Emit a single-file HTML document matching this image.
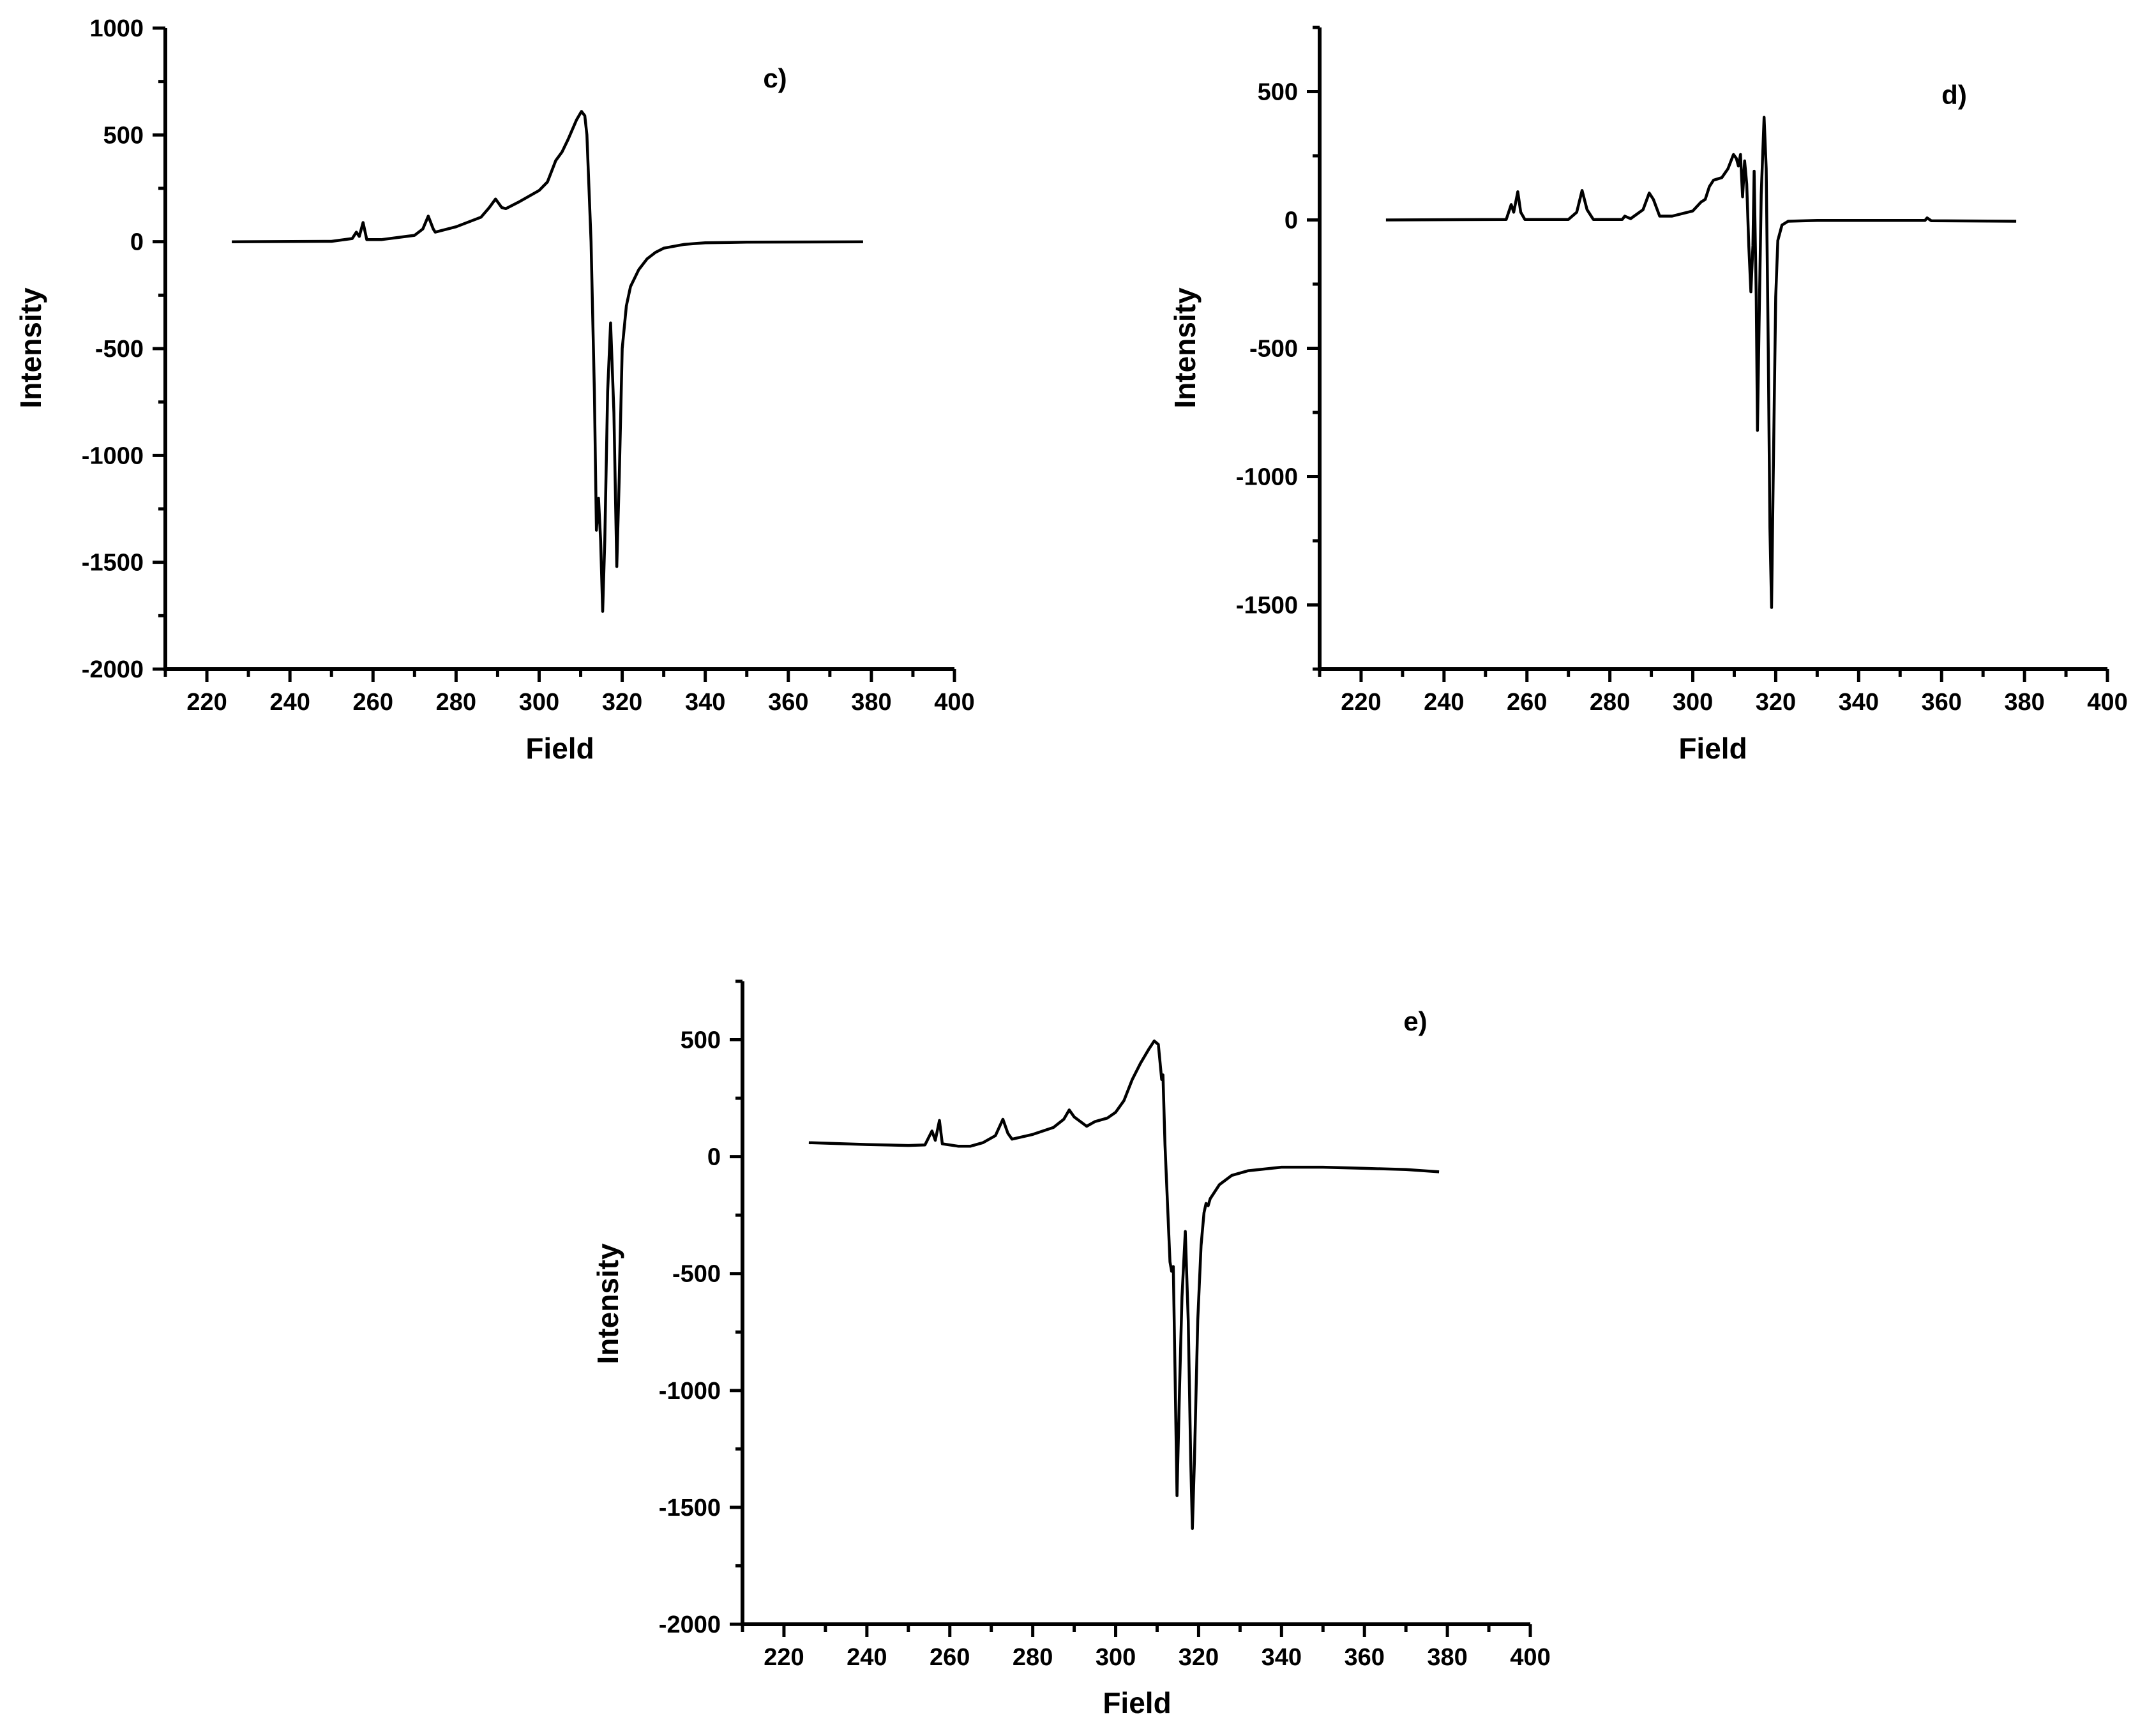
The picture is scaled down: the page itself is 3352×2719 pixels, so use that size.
<!DOCTYPE html>
<html><head><meta charset="utf-8"><style>
html,body{margin:0;padding:0;background:#fff;}
svg{display:block;}
text{font-family:"Liberation Sans",Arial,sans-serif;font-weight:bold;fill:#000;}
</style></head><body>
<svg id="chart" width="3352" height="2719" viewBox="0 0 3352 2719" xmlns="http://www.w3.org/2000/svg"></svg>
<script>
const fieldC = [226,250,255,256,256.7,257.6,258.5,262,270,272,273.3,274.5,275,280,286,288,289.5,291,292,295,300,302,304,305.5,307,309,310.2,311,311.5,312.5,313.3,313.8,314.3,314.8,315.3,315.8,316.5,317.2,318,318.7,319.3,320,321,322,324,326,328,330,335,340,350,378];
const intC = [0,2,15,45,25,90,10,10,30,60,120,60,45,70,115,160,200,160,155,185,240,280,380,420,480,570,610,590,500,0,-700,-1350,-1200,-1400,-1730,-1400,-700,-380,-800,-1520,-1100,-500,-300,-210,-130,-80,-50,-30,-12,-5,-2,0];
const fieldD = [226,255,256.2,256.8,257.8,258.5,259.5,270,272,273.3,274.5,276,283,283.6,285,288,289.5,290.5,292,295,300,302,303,304,305,307,308.5,309.8,310.5,311,311.5,312,312.5,313,313.5,314,314.5,314.8,315.3,315.6,316,316.5,317.2,317.7,318.2,318.6,319,319.4,320,320.5,321.5,323,330,356,356.5,357.5,378];
const intD = [0,2,60,30,110,30,2,2,30,115,40,2,2,15,5,40,105,80,15,15,35,70,80,130,155,165,200,255,240,210,255,90,230,140,-100,-280,-100,190,-300,-820,-400,100,400,200,-500,-1200,-1510,-1000,-300,-80,-20,-5,-2,-2,8,-3,-5];
const fieldE = [226,240,250,254,255.7,256.5,257.5,258.2,262,265,268,271,272.8,274,275,280,285,287.5,288.8,290,293,295,298,300,302,304,306,308,309.3,310.3,311.1,311.4,311.9,312.5,313.1,313.5,313.9,314.3,314.8,315.4,316,316.8,317.5,318.1,318.5,319,319.8,320.6,321.3,321.8,322.3,322.8,325,328,332,340,350,360,370,378];
const intE = [60,52,48,50,110,70,155,55,45,45,60,90,160,100,75,95,125,160,200,170,130,150,165,190,240,330,400,460,495,480,330,350,50,-200,-450,-490,-470,-900,-1450,-1000,-600,-320,-700,-1300,-1590,-1300,-700,-380,-240,-200,-210,-180,-120,-80,-60,-45,-45,-50,-55,-65];
const xTicks = [220,240,260,280,300,320,340,360,380,400];
const yTicksC = [1000,500,0,-500,-1000,-1500,-2000];
const yTicksD = [500,0,-500,-1000,-1500];
const yTicksE = [500,0,-500,-1000,-1500,-2000];

const NS="http://www.w3.org/2000/svg";
const svg=document.getElementById('chart');
function mk(tag,attrs,parent){const e=document.createElementNS(NS,tag);for(const k in attrs)e.setAttribute(k,attrs[k]);(parent||svg).appendChild(e);return e;}

const panels=[
 {id:'c',x0:259,x1:1495,yT:44,yB:1048,ymin:-2000,ymax:1000,yt:yTicksC,f:fieldC,v:intC,lab:'c)',lx:1214,ly:137,fx:877,fy:1188,ix:64,iy:545},
 {id:'d',x0:2067,x1:3301,yT:43,yB:1048,ymin:-1750,ymax:750,yt:yTicksD,f:fieldD,v:intD,lab:'d)',lx:3061,ly:163,fx:2683,fy:1188,ix:1872,iy:545},
 {id:'e',x0:1163,x1:2397,yT:1537,yB:2544,ymin:-2000,ymax:750,yt:yTicksE,f:fieldE,v:intE,lab:'e)',lx:2217,ly:1614,fx:1781,fy:2683,ix:968,iy:2042}
];
panels.forEach(p=>{
 const g=mk('g',{});
 
 
 const sx=v=>p.x0+(v-210)/(400-210)*(p.x1-p.x0);
 const sy=v=>p.yB-(v-p.ymin)/(p.ymax-p.ymin)*(p.yB-p.yT);
 const ax=mk('path',{d:`M${p.x0},${p.yT}V${p.yB}H${p.x1}`,fill:'none',stroke:'#000','stroke-width':6},g);
 
 
 for(let v=210;v<=400;v+=10){const X=sx(v);const maj=(v%20===0);
  mk('line',{x1:X,y1:p.yB,x2:X,y2:p.yB+(maj?20:12),stroke:'#000','stroke-width':5},g);}
 xTicks.forEach(v=>{const t=mk('text',{x:sx(v),y:p.yB+64,'text-anchor':'middle','font-size':38},g);t.textContent=v;
  
  });
 for(let v=p.ymin;v<=p.ymax;v+=250){const Y=sy(v);const maj=(v%500===0);
  mk('line',{x1:p.x0,y1:Y,x2:p.x0-(maj?20:11),y2:Y,stroke:'#000','stroke-width':5},g);}
 p.yt.forEach(v=>{const t=mk('text',{x:p.x0-34,y:sy(v)+13,'text-anchor':'end','font-size':38},g);t.textContent=v;
  
  });
 let d='';p.f.forEach((f,i)=>{d+=(i?'L':'M')+sx(f).toFixed(1)+','+sy(p.v[i]).toFixed(1);});
 const line=mk('path',{d:d,fill:'none',stroke:'#000','stroke-width':4.5,'stroke-linejoin':'round'},g);
 
 
 const lb=mk('text',{x:p.lx,y:p.ly,'text-anchor':'middle','font-size':42},g);lb.textContent=p.lab;
 
 
 const xt=mk('text',{x:p.fx,y:p.fy,'text-anchor':'middle','font-size':46},g);xt.textContent='Field';
 
 
 const yt=mk('text',{x:p.ix,y:p.iy,'text-anchor':'middle','font-size':46,transform:`rotate(-90 ${p.ix} ${p.iy})`},g);yt.textContent='Intensity';
 
 
});
</script>
</body></html>
